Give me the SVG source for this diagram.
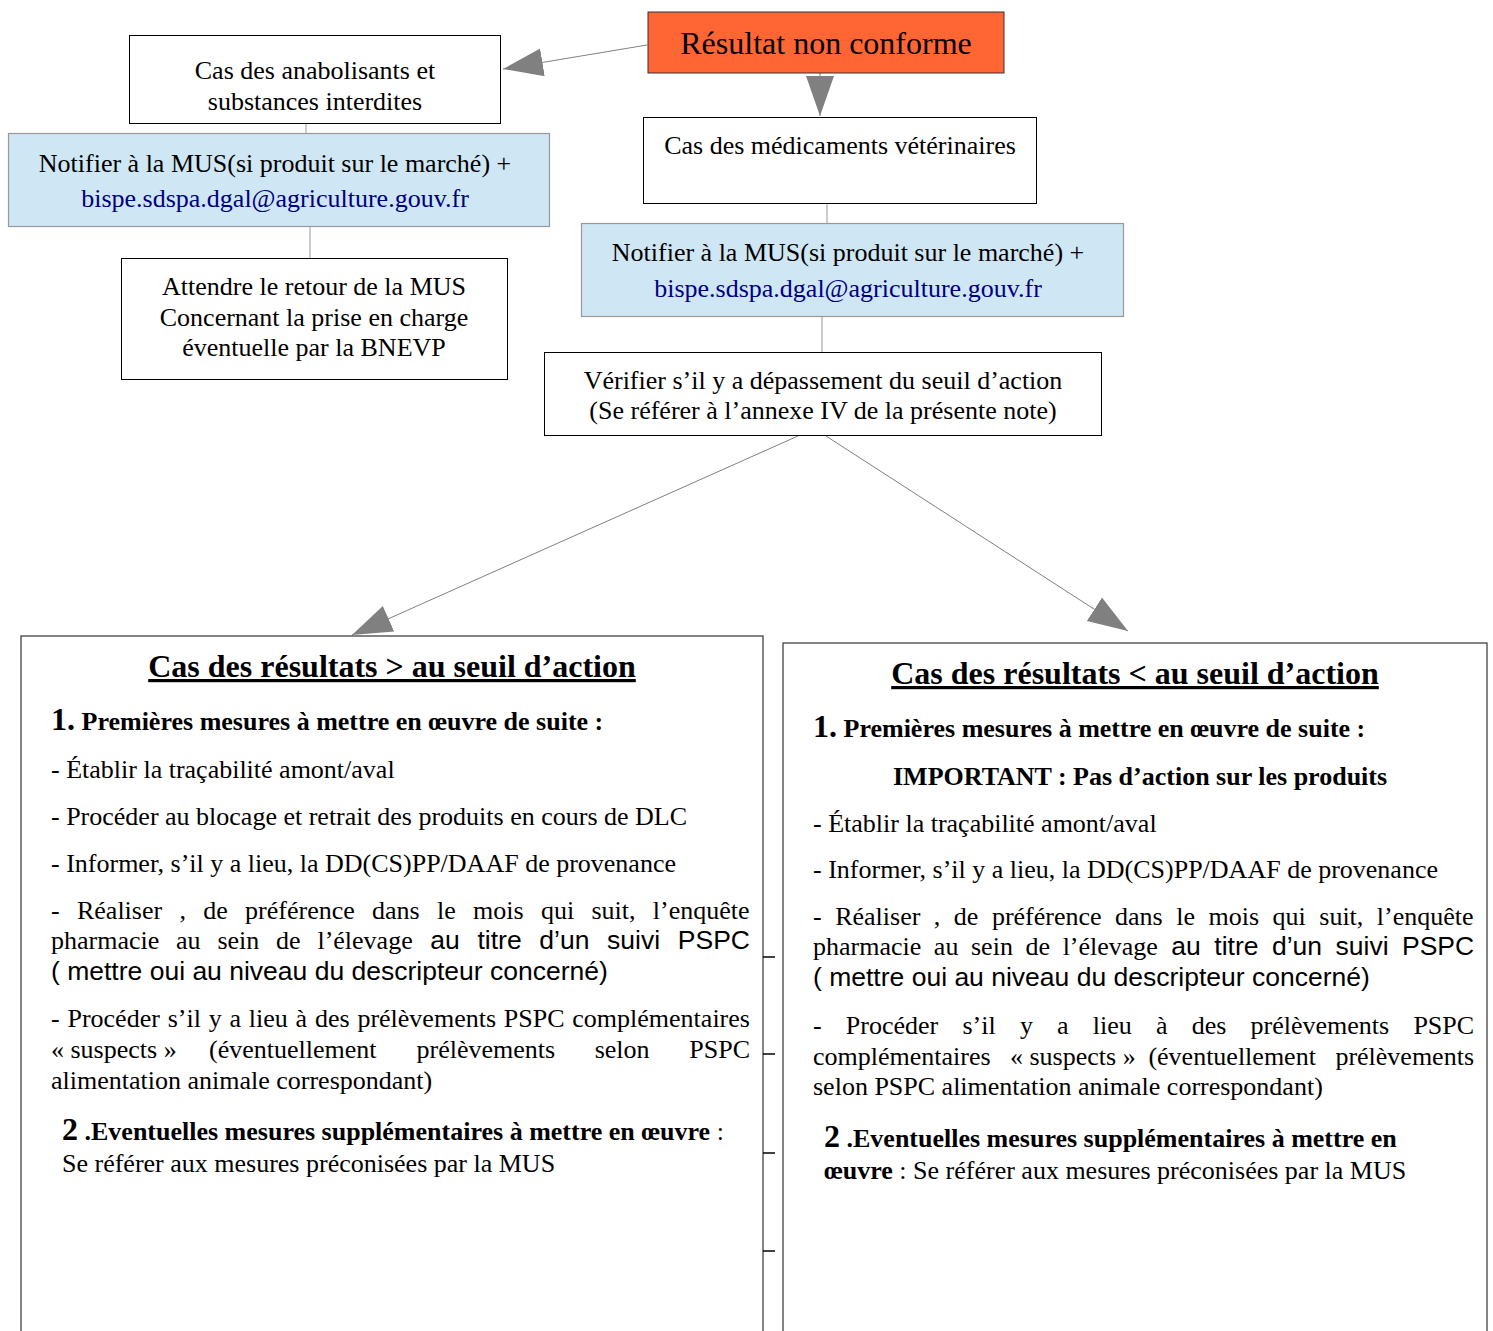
<svg xmlns="http://www.w3.org/2000/svg" width="1493" height="1331" viewBox="0 0 1493 1331">
<defs>
<style>
.box{fill:#fff;stroke:#000;stroke-width:1}
.blue{fill:#cfe6f4;stroke:#999;stroke-width:1.2}
.big{fill:#fff;stroke:#333;stroke-width:1.2}
.t{font-family:"Liberation Serif","Times New Roman",serif;font-size:26px;fill:#000}
.s{font-family:"Liberation Sans",Arial,sans-serif;font-size:26.5px}
.c{text-anchor:middle}
.b{font-weight:bold}
.mail{fill:#000080}
.h{font-family:"Liberation Serif","Times New Roman",serif;font-size:32px;font-weight:bold;text-decoration:underline;text-anchor:middle}
.n{font-size:32px;font-weight:bold}
.big32{font-size:32px}
.ln{stroke:#999;stroke-width:1;fill:none}
.ar{stroke:#808080;stroke-width:1;fill:none}
.tick{stroke:#000;stroke-width:1.5}
</style>
<marker id="ah" markerUnits="userSpaceOnUse" markerWidth="42" markerHeight="30" refX="40" refY="14" orient="auto">
<path d="M0,0 L40,14 L0,28 Z" fill="#808080"/>
</marker>
</defs>
<rect width="1493" height="1331" fill="#fff"/>

<g id="connectors">
<line class="ar" x1="647" y1="45" x2="503" y2="69" marker-end="url(#ah)"/>
<line class="ar" x1="820" y1="73" x2="820" y2="116" marker-end="url(#ah)"/>
<line class="ln" x1="306" y1="123" x2="306" y2="133"/>
<line class="ln" x1="310" y1="227" x2="310" y2="258"/>
<line class="ln" x1="827" y1="203" x2="827" y2="223"/>
<line class="ln" x1="822" y1="316" x2="822" y2="352"/>
<line class="ar" x1="798" y1="436" x2="352" y2="635" marker-end="url(#ah)"/>
<line class="ar" x1="826" y1="436" x2="1128" y2="631" marker-end="url(#ah)"/>
</g>

<g id="n-resultat">
<rect x="648" y="12" width="356" height="61" fill="#ff6633" stroke="#333" stroke-width="1"/>
<text class="t c big32" x="826" y="54">Résultat non conforme</text>
</g>

<g id="n-anabolisants">
<rect class="box" x="129.5" y="35.5" width="371" height="88"/>
<text class="t c" x="315" y="79">Cas des anabolisants et</text>
<text class="t c" x="315" y="110">substances interdites</text>
</g>

<g id="n-notifier1">
<rect class="blue" x="8.5" y="133.5" width="541" height="93"/>
<text class="t c" x="275" y="172">Notifier à la MUS(si produit sur le marché) +</text>
<text class="t c mail" x="275" y="207">bispe.sdspa.dgal@agriculture.gouv.fr</text>
</g>

<g id="n-attendre">
<rect class="box" x="121.5" y="258.5" width="386" height="121"/>
<text class="t c" x="314" y="295">Attendre le retour de la MUS</text>
<text class="t c" x="314" y="326">Concernant la prise en charge</text>
<text class="t c" x="314" y="356">éventuelle par la BNEVP</text>
</g>

<g id="n-medicaments">
<rect class="box" x="643.5" y="117.5" width="393" height="86"/>
<text class="t c" x="840" y="154">Cas des médicaments vétérinaires</text>
</g>

<g id="n-notifier2">
<rect class="blue" x="581.5" y="223.5" width="542" height="93"/>
<text class="t c" x="848" y="261">Notifier à la MUS(si produit sur le marché) +</text>
<text class="t c mail" x="848" y="297">bispe.sdspa.dgal@agriculture.gouv.fr</text>
</g>

<g id="n-verifier">
<rect class="box" x="544.5" y="352.5" width="557" height="83"/>
<text class="t c" x="823" y="389">Vérifier s’il y a dépassement du seuil d’action</text>
<text class="t c" x="823" y="419">(Se référer à l’annexe IV de la présente note)</text>
</g>

<g id="n-superieur">
<rect class="big" x="21" y="636" width="742" height="720"/>
<line class="tick" x1="763" y1="957" x2="775" y2="957"/>
<line class="tick" x1="763" y1="1054" x2="775" y2="1054"/>
<line class="tick" x1="763" y1="1153" x2="775" y2="1153"/>
<line class="tick" x1="763" y1="1251" x2="775" y2="1251"/>
<text class="h" x="392" y="677">Cas des résultats &gt; au seuil d’action</text>
<text class="t b" x="51" y="730"><tspan class="n">1.</tspan> Premières mesures à mettre en œuvre de suite :</text>
<text class="t" x="51" y="778">- Établir la traçabilité amont/aval</text>
<text class="t" x="51" y="825">- Procéder au blocage et retrait des produits en cours de DLC</text>
<text class="t" x="51" y="872">- Informer, s’il y a lieu, la DD(CS)PP/DAAF de provenance</text>
<text class="t" x="51" y="919" word-spacing="10.8">- Réaliser , de préférence dans le mois qui suit, l’enquête</text>
<text class="t" x="51" y="949" word-spacing="10.3">pharmacie au sein de l’élevage<tspan class="s"> au titre d’un suivi PSPC</tspan></text>
<text class="t s" x="51" y="980">( mettre oui au niveau du descripteur concerné)</text>
<text class="t" x="51" y="1027" word-spacing="1.3">- Procéder s’il y a lieu à des prélèvements PSPC complémentaires</text>
<text class="t" y="1058"><tspan x="51">« suspects »</tspan><tspan x="209">(éventuellement</tspan><tspan x="416.5">prélèvements</tspan><tspan x="594.7">selon</tspan><tspan x="689.3">PSPC</tspan></text>
<text class="t" x="51" y="1089">alimentation animale correspondant)</text>
<text class="t b" x="62" y="1140"><tspan class="n">2</tspan> .Eventuelles mesures supplémentaires à mettre en œuvre <tspan font-weight="normal">:</tspan></text>
<text class="t" x="62" y="1172">Se référer aux mesures préconisées par la MUS</text>
</g>

<g id="n-inferieur">
<rect class="big" x="783" y="643" width="704" height="720"/>
<text class="h" x="1135" y="684">Cas des résultats &lt; au seuil d’action</text>
<text class="t b" x="813" y="737"><tspan class="n">1.</tspan> Premières mesures à mettre en œuvre de suite :</text>
<text class="t b" x="893" y="785">IMPORTANT : Pas d’action sur les produits</text>
<text class="t" x="813" y="832">- Établir la traçabilité amont/aval</text>
<text class="t" x="813" y="878">- Informer, s’il y a lieu, la DD(CS)PP/DAAF de provenance</text>
<text class="t" x="813" y="925" word-spacing="7">- Réaliser , de préférence dans le mois qui suit, l’enquête</text>
<text class="t" x="813" y="955" word-spacing="6.1">pharmacie au sein de l’élevage<tspan class="s"> au titre d’un suivi PSPC</tspan></text>
<text class="t s" x="813" y="986">( mettre oui au niveau du descripteur concerné)</text>
<text class="t" x="813" y="1034" word-spacing="17.7">- Procéder s’il y a lieu à des prélèvements PSPC</text>
<text class="t" y="1065"><tspan x="813">complémentaires</tspan><tspan x="1010">« suspects »</tspan><tspan x="1148.4">(éventuellement</tspan><tspan x="1335.4">prélèvements</tspan></text>
<text class="t" x="813" y="1095">selon PSPC alimentation animale correspondant)</text>
<text class="t b" x="824" y="1147"><tspan class="n">2</tspan> .Eventuelles mesures supplémentaires à mettre en</text>
<text class="t" x="824" y="1179"><tspan class="b">œuvre</tspan> : Se référer aux mesures préconisées par la MUS</text>
</g>
</svg>
